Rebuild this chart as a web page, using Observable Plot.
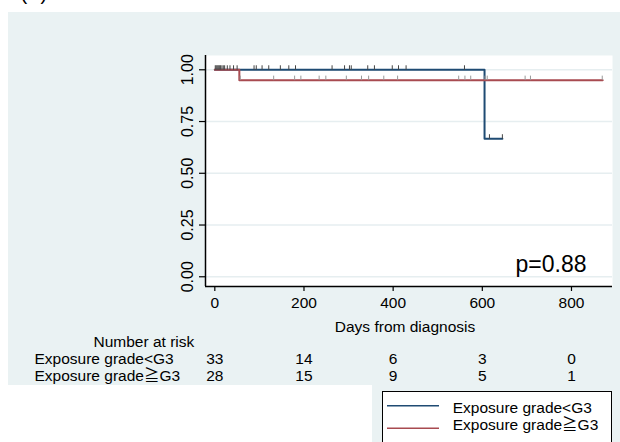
<!DOCTYPE html>
<html><head><meta charset="utf-8">
<script src="https://cdn.jsdelivr.net/npm/d3@7"></script>
<script src="https://cdn.jsdelivr.net/npm/@observablehq/plot@0.6"></script>
<style>
html,body{margin:0;padding:0;background:#fff;overflow:hidden;}
#wrap{position:relative;width:620px;height:442px;overflow:hidden;font-family:"Liberation Sans",Arial,"Noto Sans CJK JP",sans-serif;}
.panel{position:absolute;background:#eaf2f3;}
#chart{position:absolute;left:0;top:0;}
#legend{position:absolute;left:382px;top:391px;width:230px;height:60px;background:#fff;border:1px solid #000;border-bottom:none;box-sizing:border-box;}
#legend svg{overflow:hidden;display:block;position:absolute;left:-1px;top:-1px;}
</style></head>
<body>
<div id="wrap">
  <div class="panel" style="left:8px;top:12px;width:612px;height:373px"></div>
  <div class="panel" style="left:372px;top:385px;width:248px;height:57px"></div>
  <div id="chart"></div>
  <div id="legend"></div>
</div>
<script>
// ---- data ----
const xTicks = [0, 200, 400, 600, 800];
const yTicks = [0, 0.25, 0.5, 0.75, 1];
const seriesNames = ["Exposure grade<G3", "Exposure grade\u2267G3"];
const seriesColors = ["#1f4b73", "#a84a50"];
const censorColors = ["#444444", "#999999"];

// Kaplan-Meier steps
const lowTime = [0, 605, 645];
const lowSurv = [1, 0.667, 0.667];
const highTime = [0, 55, 870];
const highSurv = [1, 0.95, 0.95];

// censoring times
const lowCensorAt1 = [1, 3, 5, 7, 9, 11, 13, 16, 19, 22, 28, 34, 42, 50, 88, 93, 106, 121, 147, 166, 181, 263, 291, 302, 306, 343, 358, 398, 412, 429, 560];
const lowCensorAtDrop = [616, 645];
const highCensor = [57, 132, 179, 193, 234, 249, 295, 329, 345, 379, 410, 547, 561, 574, 606, 611, 696, 708, 869];

// number at risk
const riskDays = [0, 200, 400, 600, 800];
const riskLow = [33, 14, 6, 3, 0];
const riskHigh = [28, 15, 9, 5, 1];

const pText = "p=0.88";
const xLabel = "Days from diagnosis";
const riskTitle = "Number at risk";
const panelTag = "(A)";

// ---- build tables ----
const lowCurve = lowTime.map((t, i) => ({t, s: lowSurv[i]}));
const highCurve = highTime.map((t, i) => ({t, s: highSurv[i]}));
const lowCens = lowCensorAt1.map(t => ({t, s: lowSurv[0]})).concat(lowCensorAtDrop.map(t => ({t, s: lowSurv[1]})));
const highCens = highCensor.map(t => ({t, s: highSurv[1]}));
const riskRowLow = riskDays.map((d, i) => ({d, n: riskLow[i]}));
const riskRowHigh = riskDays.map((d, i) => ({d, n: riskHigh[i]}));

const xDomain = [-20.9, 892];
const yDomain = [-0.047, 1.069];
const FONT = 15.5;
const FAMILY = "'Liberation Sans', Arial, 'Noto Sans CJK JP', sans-serif";
const tickUp = {draw(ctx) { ctx.moveTo(0, 0); ctx.lineTo(0, -4.5); }};

const chart = Plot.plot({
  width: 620,
  height: 442,
  marginLeft: 205,
  marginRight: 8,
  marginTop: 55,
  marginBottom: 156,
  style: {background: "transparent", fontFamily: FAMILY, color: "#000", overflow: "visible"},
  x: {domain: xDomain},
  y: {domain: yDomain},
  marks: [
    Plot.frame({fill: "white", stroke: null}),
    Plot.ruleY(yTicks, {stroke: "#e6eef0", strokeWidth: 1.5}),
    Plot.line(lowCurve, {x: "t", y: "s", curve: "step-after", stroke: seriesColors[0], strokeWidth: 2}),
    Plot.line(highCurve, {x: "t", y: "s", curve: "step-after", stroke: seriesColors[1], strokeWidth: 2}),
    Plot.dot(lowCens, {x: "t", y: "s", symbol: tickUp, fill: "none", stroke: censorColors[0], strokeWidth: 1}),
    Plot.dot(highCens, {x: "t", y: "s", symbol: tickUp, fill: "none", stroke: censorColors[1], strokeWidth: 1}),
    Plot.ruleX([xDomain[0]], {stroke: "black", strokeWidth: 1.5}),
    Plot.ruleY([yDomain[0]], {stroke: "black", strokeWidth: 1.5}),
    Plot.axisX(xTicks, {tickSize: 5, tickPadding: 5.5, fontSize: FONT, fontFamily: FAMILY, label: null, stroke: "black", fill: "black", strokeWidth: 1.2}),
    Plot.axisY(yTicks, {tickSize: 6, fill: "none", label: null, stroke: "black", strokeWidth: 1.2}),
    Plot.text(yTicks, {y: d => d, frameAnchor: "left", dx: -17.5, rotate: -90, text: d => d3.format(".2f")(d), textAnchor: "middle", lineAnchor: "middle", fontSize: 16, fontFamily: FAMILY, fill: "black"}),
    Plot.text([xLabel], {frameAnchor: "bottom", dx: -4, dy: 45, lineAnchor: "bottom", fontSize: FONT, fontFamily: FAMILY}),
    Plot.text([pText], {frameAnchor: "bottom-right", dx: -26, dy: -14.3, textAnchor: "end", lineAnchor: "bottom", fontSize: 23, fontFamily: FAMILY}),
    Plot.text([riskTitle], {frameAnchor: "bottom-left", dx: -112, dy: 60.5, textAnchor: "start", lineAnchor: "bottom", fontSize: FONT, fontFamily: FAMILY}),
    Plot.text([seriesNames[0]], {frameAnchor: "bottom-left", dx: -171, dy: 77.5, textAnchor: "start", lineAnchor: "bottom", fontSize: FONT, fontFamily: FAMILY}),
    Plot.text([seriesNames[1]], {frameAnchor: "bottom-left", dx: -171, dy: 94.5, textAnchor: "start", lineAnchor: "bottom", fontSize: FONT, fontFamily: FAMILY}),
    Plot.text(riskRowLow, {x: "d", text: "n", frameAnchor: "bottom", dy: 77.5, lineAnchor: "bottom", fontSize: FONT, fontFamily: FAMILY}),
    Plot.text(riskRowHigh, {x: "d", text: "n", frameAnchor: "bottom", dy: 94.5, lineAnchor: "bottom", fontSize: FONT, fontFamily: FAMILY}),
    Plot.text([panelTag], {frameAnchor: "top-left", dx: -185, dy: -56, textAnchor: "start", lineAnchor: "bottom", fontSize: 20, fontFamily: FAMILY})
  ]
});
document.getElementById("chart").appendChild(chart);

// ---- legend box (open at the bottom: the box runs past the picture's edge) ----
const lg = d3.select("#legend").append("svg").attr("width", 230).attr("height", 51)
  .style("font-family", FAMILY);
const rowsY = [14.7, 37.3];
const textY = [21.7, 39.3];
seriesNames.forEach((name, i) => {
  lg.append("line").attr("x1", 5).attr("x2", 57).attr("y1", rowsY[i]).attr("y2", rowsY[i])
    .attr("stroke", seriesColors[i]).attr("stroke-width", 1.5);
  lg.append("text").attr("x", 70.7).attr("y", textY[i]).attr("font-size", FONT).attr("fill", "black").text(name);
});
</script>
</body></html>
